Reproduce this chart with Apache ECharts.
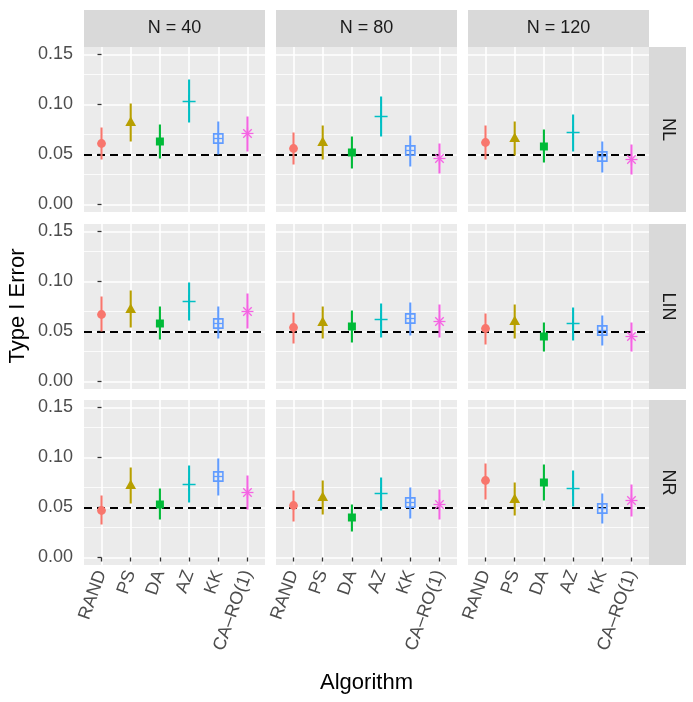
<!DOCTYPE html>
<html>
<head>
<meta charset="utf-8">
<script src="https://cdn.jsdelivr.net/npm/echarts@6/dist/echarts.min.js"></script>
<style>
  html, body { margin: 0; padding: 0; background: #fff; }
  #chart { width: 693px; height: 702px; }
</style>
</head>
<body>
<div id="chart"></div>
<script>
// categories / facets
const algorithms = ['RAND', 'PS', 'DA', 'AZ', 'KK', 'CA\u2013RO(1)'];
const sampleSizes = ['N = 40', 'N = 80', 'N = 120'];
const models = ['NL', 'LIN', 'NR'];
const yTicks = [0, 0.05, 0.10, 0.15];
const nominalLevel = 0.05;

// Type I error estimates, one row per sample size (40, 80, 120), one value per algorithm
const nlMean  = [[0.061, 0.082, 0.063, 0.103, 0.066, 0.071], [0.056, 0.062, 0.052, 0.088, 0.054, 0.046], [0.062, 0.066, 0.058, 0.072, 0.048, 0.045]];
const nlLower = [[0.045, 0.063, 0.046, 0.082, 0.050, 0.053], [0.040, 0.045, 0.036, 0.068, 0.038, 0.031], [0.045, 0.049, 0.042, 0.053, 0.032, 0.030]];
const nlUpper = [[0.077, 0.101, 0.080, 0.125, 0.083, 0.088], [0.072, 0.079, 0.068, 0.108, 0.069, 0.061], [0.079, 0.083, 0.075, 0.090, 0.063, 0.060]];

const linMean  = [[0.067, 0.072, 0.058, 0.080, 0.058, 0.070], [0.054, 0.059, 0.055, 0.062, 0.063, 0.060], [0.053, 0.060, 0.045, 0.058, 0.051, 0.045]];
const linLower = [[0.050, 0.054, 0.042, 0.061, 0.043, 0.053], [0.038, 0.043, 0.039, 0.044, 0.046, 0.044], [0.037, 0.043, 0.030, 0.041, 0.036, 0.030]];
const linUpper = [[0.085, 0.091, 0.075, 0.099, 0.075, 0.088], [0.069, 0.075, 0.071, 0.078, 0.079, 0.077], [0.068, 0.077, 0.059, 0.074, 0.066, 0.059]];

const nrMean  = [[0.047, 0.072, 0.053, 0.073, 0.081, 0.065], [0.052, 0.060, 0.040, 0.064, 0.055, 0.053], [0.077, 0.058, 0.075, 0.069, 0.049, 0.057]];
const nrLower = [[0.033, 0.054, 0.038, 0.055, 0.062, 0.048], [0.036, 0.043, 0.026, 0.047, 0.039, 0.038], [0.058, 0.042, 0.057, 0.051, 0.034, 0.041]];
const nrUpper = [[0.062, 0.090, 0.069, 0.092, 0.099, 0.082], [0.067, 0.077, 0.053, 0.080, 0.070, 0.068], [0.094, 0.075, 0.093, 0.087, 0.064, 0.073]];

const colors = ['#F8766D', '#B79F00', '#00BA38', '#00BFC4', '#619CFF', '#F564E3'];
const shapes = ['circle', 'triangle', 'square', 'plus', 'squarePlus', 'asterisk'];

const stats = {
  NL: [nlMean, nlLower, nlUpper],
  LIN: [linMean, linLower, linUpper],
  NR: [nrMean, nrLower, nrUpper]
};

// layout of the 3x3 facet grid
const panelLeft = [84, 276, 468];
const panelTop = [47, 224, 400];
const panelW = 181;
const panelH = 165;
const FONT = '"Liberation Sans", Arial, Helvetica, sans-serif';

function seg(x1, y1, x2, y2, color, w) {
  return { type: 'line', shape: { x1, y1, x2, y2 }, style: { stroke: color, lineWidth: w } };
}

// ggplot-ish point shapes 16, 17, 15, 3, 12, 8
function markShape(kind, cx, cy, color) {
  switch (kind) {
    case 'circle':
      return { type: 'circle', shape: { cx, cy, r: 4.4 }, style: { fill: color } };
    case 'triangle':
      return { type: 'polygon', shape: { points: [[cx, cy - 6], [cx - 5.4, cy + 3.4], [cx + 5.4, cy + 3.4]] }, style: { fill: color } };
    case 'square':
      return { type: 'rect', shape: { x: cx - 4, y: cy - 4, width: 8, height: 8 }, style: { fill: color } };
    case 'plus':
      return { type: 'group', children: [seg(cx - 6.5, cy, cx + 6.5, cy, color, 1.5), seg(cx, cy - 6.5, cx, cy + 6.5, color, 1.5)] };
    case 'squarePlus':
      return { type: 'group', children: [
        { type: 'rect', shape: { x: cx - 4.6, y: cy - 4.6, width: 9.2, height: 9.2 }, style: { fill: 'none', stroke: color, lineWidth: 1.6 } },
        seg(cx - 4.6, cy, cx + 4.6, cy, color, 1.3), seg(cx, cy - 4.6, cx, cy + 4.6, color, 1.3)
      ] };
    default: {
      const r = 6, d = r * Math.SQRT1_2;
      return { type: 'group', children: [
        seg(cx - r, cy, cx + r, cy, color, 1.3), seg(cx, cy - r, cx, cy + r, color, 1.3),
        seg(cx - d, cy - d, cx + d, cy + d, color, 1.3), seg(cx - d, cy + d, cx + d, cy - d, color, 1.3)
      ] };
    }
  }
}

function renderPointRange(params, api) {
  const i = api.value(0);
  const pm = api.coord([i, api.value(1)]);
  const pl = api.coord([i, api.value(2)]);
  const ph = api.coord([i, api.value(3)]);
  const color = colors[i];
  return {
    type: 'group',
    children: [
      seg(pm[0], pl[1], pm[0], ph[1], color, 2.1),
      markShape(shapes[i], pm[0], pm[1], color)
    ]
  };
}

const grids = [], xAxes = [], yAxes = [], series = [], graphics = [];
const catTicks = algorithms.map((a, i) => i);

models.forEach((model, r) => {
  const [mean, lower, upper] = stats[model];
  sampleSizes.forEach((n, c) => {
    const k = r * 3 + c;
    grids.push({ left: panelLeft[c], top: panelTop[r], width: panelW, height: panelH, show: true, backgroundColor: '#EBEBEB', borderWidth: 0 });
    xAxes.push({
      gridIndex: k, type: 'value', min: -0.6, max: 5.6,
      axisLine: { show: false },
      axisTick: { show: r === 2, customValues: catTicks, length: 4, lineStyle: { color: '#333', width: 1.3 } },
      axisLabel: { show: r === 2, customValues: catTicks, formatter: v => algorithms[v], rotate: 70, fontSize: 18, color: '#4D4D4D', fontFamily: FONT, margin: 6 },
      splitLine: { show: true, lineStyle: { color: '#fff', width: 1.6 } }
    });
    yAxes.push({
      gridIndex: k, type: 'value', min: -0.0075, max: 0.1575,
      axisLine: { show: false },
      axisTick: { show: c === 0, customValues: yTicks, length: 4, lineStyle: { color: '#333', width: 1.3 } },
      axisLabel: { show: c === 0, customValues: yTicks, formatter: v => v.toFixed(2), fontSize: 18, color: '#4D4D4D', fontFamily: FONT, margin: 11 },
      splitLine: { show: true, lineStyle: { color: '#fff', width: 1.6 } }
    });
    // minor gridlines + reference level
    series.push({
      type: 'line', xAxisIndex: k, yAxisIndex: k, data: [], silent: true,
      markLine: {
        z: 1, silent: true, symbol: ['none', 'none'], label: { show: false }, animation: false,
        data: [
          { yAxis: 0.025, lineStyle: { color: '#fff', width: 0.8, type: 'solid' } },
          { yAxis: 0.075, lineStyle: { color: '#fff', width: 0.8, type: 'solid' } },
          { yAxis: 0.125, lineStyle: { color: '#fff', width: 0.8, type: 'solid' } },
          { yAxis: nominalLevel, lineStyle: { color: '#000', width: 2, type: [8, 5] } }
        ]
      }
    });
    series.push({
      type: 'custom', xAxisIndex: k, yAxisIndex: k, z: 3,
      renderItem: renderPointRange,
      encode: { x: 0, y: 1 },
      data: algorithms.map((a, i) => [i, mean[c][i], lower[c][i], upper[c][i]])
    });
  });
  // right strip
  graphics.push({ type: 'rect', left: 649, top: panelTop[r], shape: { width: 37, height: panelH }, style: { fill: '#D9D9D9' } });
  graphics.push({ type: 'text', x: 667.5, y: panelTop[r] + panelH / 2, rotation: -Math.PI / 2,
    style: { text: model, font: '18px ' + FONT, fill: '#1A1A1A', align: 'center', verticalAlign: 'middle' } });
});

sampleSizes.forEach((n, c) => {
  graphics.push({ type: 'rect', left: panelLeft[c], top: 10, shape: { width: panelW, height: 37 }, style: { fill: '#D9D9D9' } });
  graphics.push({ type: 'text', x: panelLeft[c] + panelW / 2, y: 28.5,
    style: { text: n, font: '18px ' + FONT, fill: '#1A1A1A', align: 'center', verticalAlign: 'middle' } });
});

graphics.push({ type: 'text', x: 18, y: (panelTop[0] + panelTop[2] + panelH) / 2, rotation: Math.PI / 2,
  style: { text: 'Type I Error', font: '22px ' + FONT, fill: '#000', align: 'center', verticalAlign: 'middle' } });
graphics.push({ type: 'text', x: (panelLeft[0] + panelLeft[2] + panelW) / 2, y: 683,
  style: { text: 'Algorithm', font: '22px ' + FONT, fill: '#000', align: 'center', verticalAlign: 'middle' } });

const chart = echarts.init(document.getElementById('chart'), null, { renderer: 'canvas' });
chart.setOption({
  backgroundColor: '#fff',
  animation: false,
  grid: grids,
  xAxis: xAxes,
  yAxis: yAxes,
  series: series,
  graphic: graphics
});
</script>
</body>
</html>
